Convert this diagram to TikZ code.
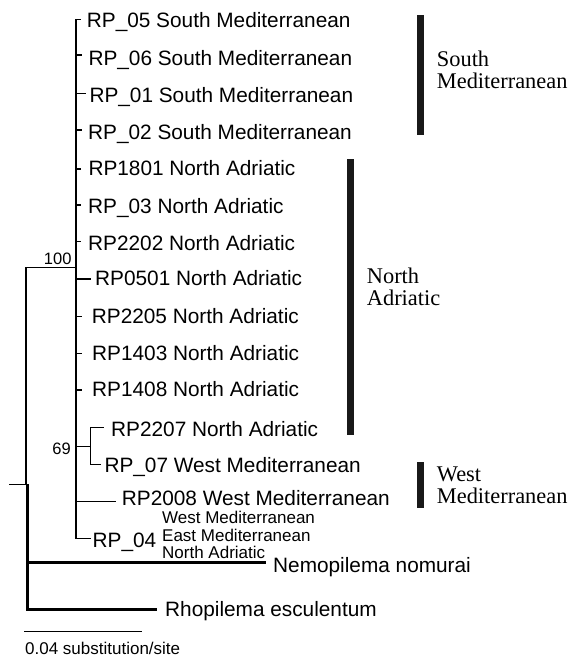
\documentclass[tikz,border=0pt]{standalone}
\usepackage{fontspec}
\setmainfont{Liberation Sans}
\newfontfamily\grpserif{Liberation Serif}
\begin{document}
\begin{tikzpicture}[x=1pt,y=-1pt,
  br/.style={line width=1.2pt,line cap=rect},
  mainv/.style={line width=1.7pt},
  thickbr/.style={line width=3pt},
  leaf/.style={inner sep=0pt,anchor=base west,font=\fontsize{20.8}{24}\selectfont},
  small/.style={inner sep=0pt,anchor=base west,font=\fontsize{17}{17.5}\selectfont},
  boot/.style={inner sep=0pt,anchor=base east,font=\fontsize{16.5}{18}\selectfont},
  grp/.style={inner sep=0pt,anchor=base west,font=\grpserif\fontsize{22.4}{22}\selectfont},
  bar/.style={fill=black!90,draw=none}]
\useasboundingbox (0,0) rectangle (572,659);

% ---- ingroup leaves: tick start on main vertical, tip, label
\foreach \n/\ty/\tip/\lx/\by/\txt in {
  a/19.3/80.7/86.7/27.3/{RP\_05 South Mediterranean},
  b/55/81.5/88.3/65.7/{RP\_06 South Mediterranean},
  c/93.3/85/89.3/102.3/{RP\_01 South Mediterranean},
  d/130/81/88/139/{RP\_02 South Mediterranean},
  e/169/80/88.3/175/{RP1801 North Adriatic},
  f/205/80/88/213.3/{RP\_03 North Adriatic},
  g/241.7/80/88/250/{RP2202 North Adriatic},
  h/279/90.7/95/285/{RP0501 North Adriatic},
  i/316.7/81/91.7/323.3/{RP2205 North Adriatic},
  j/353.3/81/92/360/{RP1403 North Adriatic},
  k/390/81/92/396.7/{RP1408 North Adriatic}}{
  \coordinate (s\n) at (75.7,\ty);
  \coordinate (t\n) at (\tip,\ty);
  \node[leaf] (L\n) at (\lx,\by) {\txt};
  \draw[br] (s\n) -- (t\n);
}

% ---- main vertical of the ingroup
\coordinate (vtop) at (75.7,19.3);
\coordinate (vbot) at (75.7,538.3);
\draw[mainv] (vtop) -- (vbot);

% ---- node 69
\coordinate (n69) at (75.7,446.5);
\coordinate (n69r) at (90.7,446.5);
\coordinate (n69t) at (90.7,427.3);
\coordinate (n69b) at (90.7,464.3);
\coordinate (tl) at (103.3,427.3);
\coordinate (tm) at (100,464.3);
\draw[br] (n69) -- (n69r);
\draw[br] (tl) -- (n69t) -- (n69b) -- (tm);
\node[leaf] (Ll) at (111,436) {RP2207 North Adriatic};
\node[leaf] (Lm) at (104.3,472.3) {RP\_07 West Mediterranean};
\node[boot] (b69) at (71,454) {69};

% ---- RP2008
\coordinate (sn) at (75.7,501.7);
\coordinate (tn) at (115,501.7);
\draw[br] (sn) -- (tn);
\node[leaf] (Ln) at (121.7,505) {RP2008 West Mediterranean};

% ---- RP_04
\coordinate (to) at (90,538.3);
\draw[br] (vbot) -- (to);
\node[leaf] (Lo) at (92.5,547.3) {RP\_04};
\node[small] (o1) at (162,523.3) {West Mediterranean};
\node[small] (o2) at (162,541) {East Mediterranean};
\node[small] (o3) at (162,558.3) {North Adriatic};

% ---- node 100 and root
\coordinate (n100) at (75.7,267.3);
\coordinate (n100l) at (26,267.3);
\coordinate (root) at (26,484.3);
\coordinate (rootst) at (9.3,484.3);
\draw[br] (n100) -- (n100l) -- (root);
\draw[br] (rootst) -- (root);
\node[boot] (b100) at (71.7,264) {100};

% ---- outgroups (thick)
\coordinate (rk) at (27,484.3);
\coordinate (nemo) at (27,562);
\coordinate (rhop) at (27,609);
\coordinate (nemot) at (266,562);
\coordinate (rhopt) at (157,609);
\draw[thickbr] (rk) -- (rhop) -- (rhopt);
\draw[thickbr] (nemo) -- (nemot);
\node[leaf] (Lnemo) at (273,572.7) {Nemopilema nomurai};
\node[leaf] (Lrhop) at (165,616) {Rhopilema esculentum};

% ---- clade bars and labels
\fill[bar] (417.3,15) rectangle (424,135);
\fill[bar] (347.3,159.3) rectangle (354,435);
\fill[bar] (417.3,461.7) rectangle (424,508.3);
\node[grp] (gs1) at (436.7,66) {South};
\node[grp] (gs2) at (436.7,88) {Mediterranean};
\node[grp] (gn1) at (366.7,283) {North};
\node[grp] (gn2) at (366.7,305) {Adriatic};
\node[grp] (gw1) at (436.7,481.7) {West};
\node[grp] (gw2) at (436.7,503.3) {Mediterranean};

% ---- scale bar
\coordinate (sb1) at (24,631.7);
\coordinate (sb2) at (142,631.7);
\draw[line width=1.2pt] (sb1) -- (sb2);
\node[small] (sbl) at (25,654.3) {0.04 substitution/site};
\end{tikzpicture}
\end{document}
